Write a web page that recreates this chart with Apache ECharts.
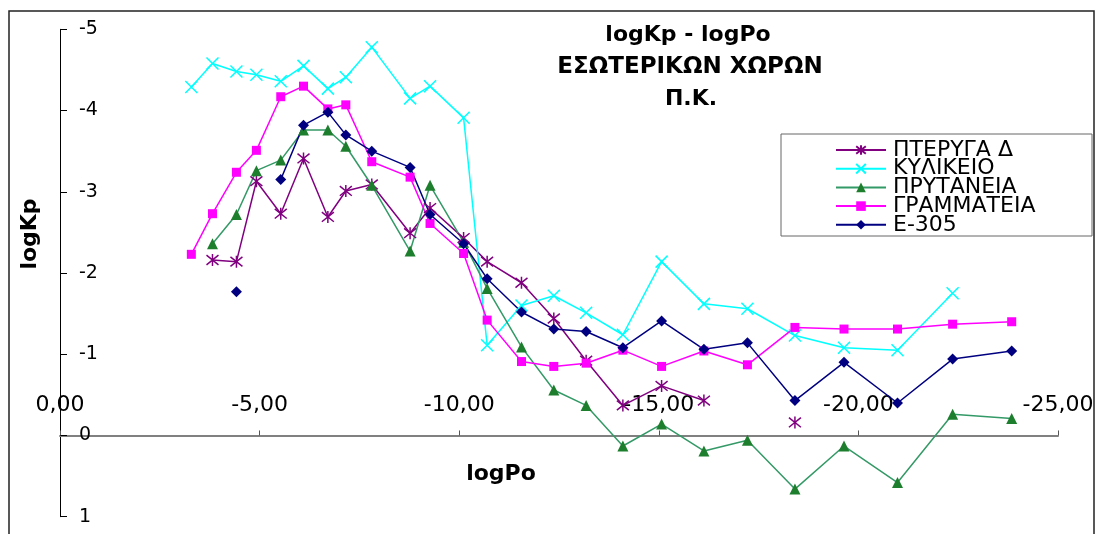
<!DOCTYPE html>
<html>
<head>
<meta charset="utf-8">
<script src="https://cdn.jsdelivr.net/npm/echarts/dist/echarts.min.js"></script>
<style>
  html, body { margin: 0; padding: 0; background: #ffffff; }
  #chart { width: 1099px; height: 534px; }
</style>
</head>
<body>
<div id="chart"></div>
<script>
// logPo positions shared by all measurement series
const logPo = [-3.29, -3.82, -4.42, -4.92, -5.53, -6.10, -6.71, -7.16, -7.81, -8.77,
               -9.27, -10.11, -10.70, -11.56, -12.37, -13.18, -14.10, -15.07, -16.13, -17.22,
               -18.41, -19.64, -20.98, -22.36, -23.84];

// logKp per location (null = no measurement)
const pterygaD = [null, -2.16, -2.14, -3.13, -2.73, -3.41, -2.69, -3.01, -3.09, -2.49,
                  -2.80, -2.43, -2.14, -1.88, -1.44, -0.92, -0.37, -0.61, -0.43, null,
                  -0.16, null, null, null, null];
const kylikeio = [-4.29, -4.58, -4.48, -4.44, -4.36, -4.55, -4.27, -4.41, -4.78, -4.15,
                  -4.30, -3.91, -1.11, -1.60, -1.72, -1.51, -1.24, -2.14, -1.62, -1.56,
                  -1.23, -1.08, -1.05, -1.75, null];
const prytaneia = [null, -2.36, -2.72, -3.26, -3.39, -3.76, -3.76, -3.56, -3.08, -2.27,
                   -3.08, -2.38, -1.81, -1.09, -0.56, -0.37, 0.13, -0.14, 0.19, 0.06,
                   0.66, 0.13, 0.58, -0.26, -0.21];
const grammateia = [-2.23, -2.73, -3.24, -3.51, -4.17, -4.30, -4.02, -4.07, -3.37, -3.18,
                    -2.61, -2.24, -1.42, -0.91, -0.85, -0.89, -1.05, -0.85, -1.04, -0.87,
                    -1.33, -1.31, -1.31, -1.37, -1.40];
const e305 = [null, null, -1.77, null, -3.15, -3.82, -3.98, -3.70, -3.50, -3.30,
              -2.72, -2.36, -1.93, -1.52, -1.31, -1.28, -1.08, -1.41, -1.06, -1.14,
              -0.43, -0.90, -0.40, -0.94, -1.04];

const seriesNames = ['ΠΤΕΡΥΓΑ Δ', 'ΚΥΛΙΚΕΙΟ', 'ΠΡΥΤΑΝΕΙΑ', 'ΓΡΑΜΜΑΤΕΙΑ', 'E-305'];
const xTickValues = [0, -5, -10, -15, -20, -25];
const yTickValues = [-5, -4, -3, -2, -1, 0, 1];
const titleLines = ['logKp - logPo', 'ΕΣΩΤΕΡΙΚΩΝ ΧΩΡΩΝ', 'Π.Κ.'];

const FONT = '"DejaVu Sans", "Liberation Sans", Arial, sans-serif';

// plot frame
const GRID_TOP = 29.3, GRID_BOTTOM = 17.3, CHART_H = 534;
const Y_MIN = -5, Y_MAX = 1;
const plotH = CHART_H - GRID_TOP - GRID_BOTTOM;
// the logPo axis sits on logKp = 0
const xAxisOffset = -plotH * (0 - Y_MIN) / (Y_MAX - Y_MIN);

function pairs(ys) {
  return logPo.map((x, i) => [x, ys[i] === null ? '-' : ys[i]]);
}

const ASTERISK = 'path://M1,1L9,9M9,1L1,9M5,0L5,10';
const CROSS = 'path://M0,0L10,10M10,0L0,10';

function lineSeries(name, ys, color, symbol, size, extraItem) {
  return {
    name: name,
    type: 'line',
    data: pairs(ys),
    connectNulls: false,
    symbol: symbol,
    symbolSize: size,
    showSymbol: true,
    lineStyle: { color: color, width: 1.5 },
    itemStyle: Object.assign({ color: color }, extraItem || {}),
    emphasis: { disabled: true }
  };
}

const chart = echarts.init(document.getElementById('chart'), null, { renderer: 'canvas' });

const option = {
  animation: false,
  backgroundColor: '#ffffff',
  textStyle: { fontFamily: FONT },
  grid: { left: 60, right: 41, top: GRID_TOP, bottom: GRID_BOTTOM, containLabel: false, outerBoundsMode: 'none' },
  xAxis: {
    type: 'value',
    min: -25,
    max: 0,
    interval: 5,
    inverse: true,
    position: 'top',
    offset: xAxisOffset,
    axisLine: { show: true, onZero: false, lineStyle: { color: '#808080', width: 2 } },
    axisTick: { show: true, inside: false, length: 5, lineStyle: { color: '#555555', width: 1 } },
    axisLabel: {
      color: '#000000',
      fontSize: 22,
      fontFamily: FONT,
      margin: 19,
      formatter: function (v) {
        if (xTickValues.indexOf(v) < 0) return '';
        return Math.abs(v) < 1e-9 ? '0,00' : v.toFixed(2).replace('.', ',');
      }
    },
    splitLine: { show: false }
  },
  yAxis: {
    type: 'value',
    min: Y_MIN,
    max: Y_MAX,
    interval: 1,
    inverse: true,
    axisLine: { show: true, onZero: false, lineStyle: { color: '#000000', width: 1 } },
    axisTick: { show: true, inside: true, length: 7, lineStyle: { color: '#000000' } },
    axisLabel: {
      inside: true,
      margin: 19,
      color: '#000000',
      fontSize: 19,
      fontFamily: FONT,
      formatter: function (v) { return yTickValues.indexOf(v) >= 0 ? String(v) : ''; }
    },
    splitLine: { show: false }
  },
  legend: {
    orient: 'vertical',
    left: 835,
    top: 139,
    padding: 0,
    itemWidth: 50,
    itemHeight: 12,
    itemGap: -3.3,
    data: seriesNames,
    textStyle: { fontSize: 22, color: '#000000', fontFamily: FONT, padding: [0, 0, 0, 2] }
  },
  graphic: [
    {
      type: 'rect', silent: true, z: -1,
      shape: { x: 9, y: 11, width: 1085, height: 540 },
      style: { fill: 'none', stroke: '#222222', lineWidth: 1.5 }
    },
    {
      type: 'rect', silent: true,
      shape: { x: 781, y: 134, width: 311, height: 102 },
      style: { fill: '#ffffff', stroke: '#666666', lineWidth: 1 },
      z: 0
    },
    {
      type: 'text', silent: true, x: 688, y: 35,
      style: { text: titleLines[0], font: 'bold 22px ' + FONT, fill: '#000000', textAlign: 'center', textVerticalAlign: 'middle' }
    },
    {
      type: 'text', silent: true, x: 690, y: 67,
      style: { text: titleLines[1], font: 'bold 23px ' + FONT, fill: '#000000', textAlign: 'center', textVerticalAlign: 'middle' }
    },
    {
      type: 'text', silent: true, x: 691, y: 99,
      style: { text: titleLines[2], font: 'bold 22px ' + FONT, fill: '#000000', textAlign: 'center', textVerticalAlign: 'middle' }
    },
    {
      type: 'text', silent: true, x: 501, y: 474,
      style: { text: 'logPo', font: 'bold 22px ' + FONT, fill: '#000000', textAlign: 'center', textVerticalAlign: 'middle' }
    },
    {
      type: 'text', silent: true, x: 30, y: 234, rotation: Math.PI / 2,
      style: { text: 'logKp', font: 'bold 22px ' + FONT, fill: '#000000', textAlign: 'center', textVerticalAlign: 'middle' }
    }
  ],
  series: [
    lineSeries(seriesNames[0], pterygaD, '#800080', ASTERISK, 12, { borderColor: '#800080', borderWidth: 1.5 }),
    lineSeries(seriesNames[1], kylikeio, '#00ffff', CROSS, 12, { borderColor: '#00ffff', borderWidth: 1.5 }),
    lineSeries(seriesNames[2], prytaneia, '#339966', 'triangle', 11, { color: '#1d7f2e' }),
    lineSeries(seriesNames[3], grammateia, '#ff00ff', 'rect', 9),
    lineSeries(seriesNames[4], e305, '#000080', 'diamond', 11)
  ]
};

chart.setOption(option);
</script>
</body>
</html>
